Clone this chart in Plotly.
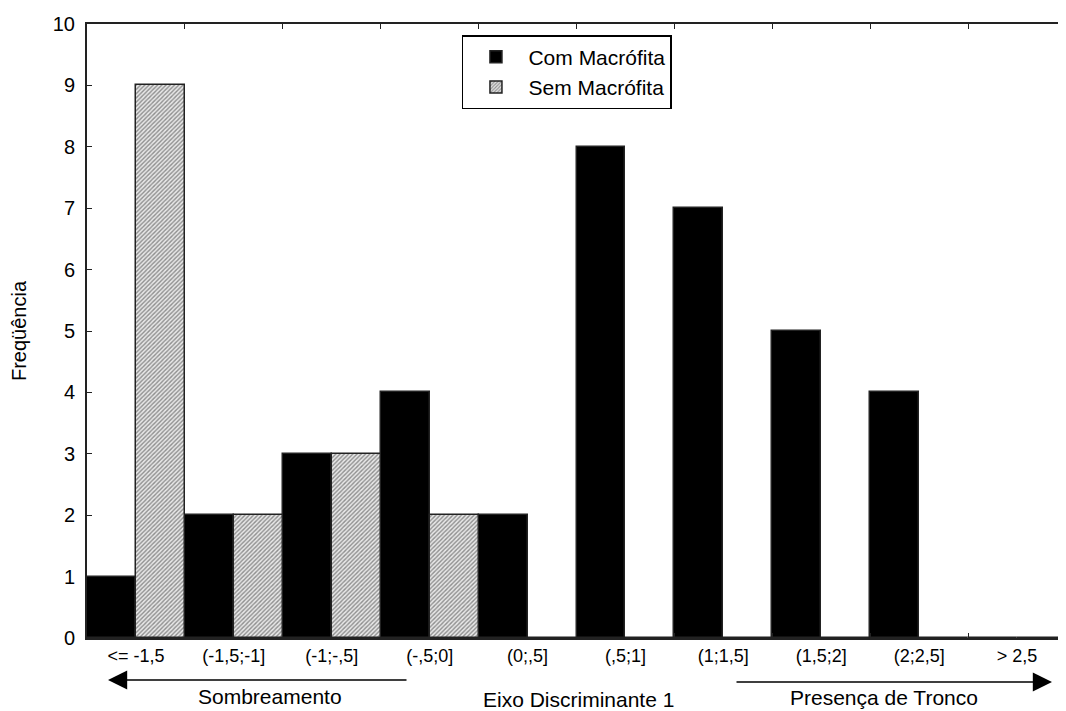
import plotly.graph_objects as go

categories = ["<= -1,5", "(-1,5;-1]", "(-1;-,5]", "(-,5;0]", "(0;,5]",
              "(,5;1]", "(1;1,5]", "(1,5;2]", "(2;2,5]", "> 2,5"]
com_macrofita = [1, 2, 3, 4, 2, 8, 7, 5, 4, 0]
sem_macrofita = [9, 2, 3, 2, 0, 0, 0, 0, 0, 0]
y_ticks = list(range(0, 11))

FONT = "Liberation Sans, Arial, Helvetica, sans-serif"

fig = go.Figure()
fig.add_trace(go.Bar(
    x=categories, y=com_macrofita, name="Com Macrófita",
    marker=dict(color="black", line=dict(color="#222", width=1.5)),
))
fig.add_trace(go.Bar(
    x=categories, y=sem_macrofita, name="Sem Macrófita",
    marker=dict(color="white", line=dict(color="#222", width=1.5),
                pattern=dict(shape="/", fgcolor="#333", bgcolor="#e8e8e8",
                             size=3, solidity=0.45)),
))

# page has an 8px body margin: figure covers page x 8..1066, y 8..711
fig.update_layout(
    width=1058, height=703,
    margin=dict(l=79, r=0, t=16, b=73),
    paper_bgcolor="white", plot_bgcolor="white",
    barmode="group", bargap=0, bargroupgap=0,
    font=dict(family=FONT, color="black"),
    showlegend=True,
    legend=dict(x=0.383, y=0.982, xanchor="left", yanchor="top",
                bordercolor="black", borderwidth=1.5, bgcolor="white",
                font=dict(size=21), itemwidth=55, tracegroupgap=4),
    xaxis=dict(type="category", range=[-0.5, 9.5], showline=True,
               linecolor="#222", linewidth=2, mirror="ticks",
               ticks="inside", ticklen=5, tickcolor="#222",
               tickson="boundaries", tickfont=dict(size=18),
               showgrid=False, zeroline=False, automargin=False),
    yaxis=dict(range=[0, 10], tickvals=y_ticks, showline=True,
               linecolor="#222", linewidth=2, ticks="inside", ticklen=5,
               tickcolor="#222", tickfont=dict(size=20), showgrid=False,
               zeroline=False, automargin=False, ticklabelstandoff=6,
               title=dict(text="Freqüência", font=dict(size=20), standoff=22)),
)

annotations = [
    dict(x=(108 - 87) / 979, y=(638 - 680) / 614, ax=300, ay=0),
    dict(x=(1052 - 87) / 979, y=(638 - 682) / 614, ax=-317, ay=0),
]
for a in annotations:
    fig.add_annotation(xref="paper", yref="paper", text="", showarrow=True,
                       arrowhead=2, arrowsize=2.4, arrowwidth=1.6,
                       arrowcolor="black", **a)

texts = [
    ("Sombreamento", 270, 696),
    ("Presença de Tronco", 884, 697),
    ("Eixo Discriminante 1", 578, 699),
]
for t, px, py in texts:
    fig.add_annotation(xref="paper", yref="paper", text=t, showarrow=False,
                       x=(px - 87) / 979, y=(638 - py) / 614,
                       xanchor="center", yanchor="middle",
                       font=dict(size=21, family=FONT))

fig.write_html("out.html")
